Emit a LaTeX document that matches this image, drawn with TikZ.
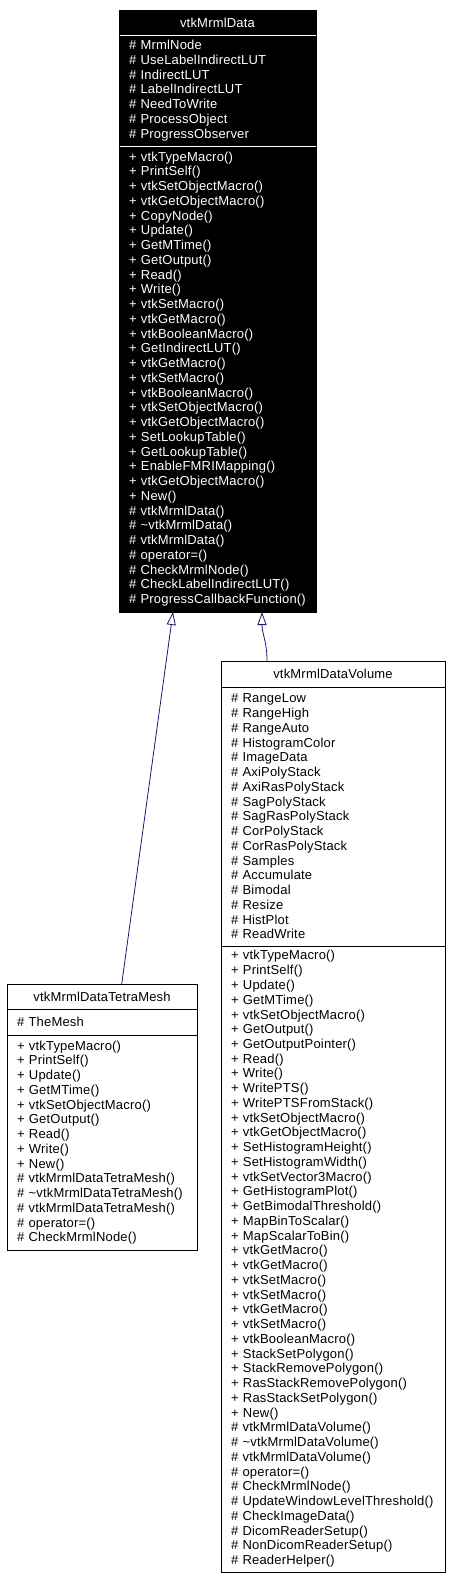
\documentclass[tikz,border=0pt]{standalone}
\usepackage{fontspec}
\setmainfont[LetterSpace=1.5]{Liberation Sans}
\usepackage{xcolor}
\definecolor{ink}{HTML}{000000}
\definecolor{edge}{HTML}{191970}
\usepackage{tikz}
\usetikzlibrary{arrows.meta, positioning, calc}
\tikzset{
  >={Triangle[open, length=13pt, width=9pt]},
  part/.style={draw=ink, line width=0.9pt, anchor=north west, outer sep=0pt, inner xsep=10pt,
    inner ysep=0pt, align=left, font=\fontsize{13}{14.75}\selectfont, text=ink},
  cname/.style={part, align=center},
  dark/.style={fill=ink, draw=ink, text=white},
  rule/.style={draw=white, line width=0.9pt},
  inherit/.style={->, line width=0.8pt, color=edge},
}

\begin{document}
\begin{tikzpicture}[x=1pt, y=1pt]
  \useasboundingbox (0,0) rectangle (452,-1580);

  % The base class, black with white text.
  \node[cname, dark, minimum width=197pt, minimum height=25pt] (dataName) at (119,-10) {vtkMrmlData};
  \node[part, dark, text width=177pt, minimum height=111pt] (dataAttr) at (dataName.south west)
    {\# MrmlNode\\\# UseLabelIndirectLUT\\\# IndirectLUT\\\# LabelIndirectLUT\\\# NeedToWrite\\
     \# ProcessObject\\\# ProgressObserver};
  \node[part, dark, text width=177pt, minimum height=466pt] (dataOps) at (dataAttr.south west)
    {+ vtkTypeMacro()\\+ PrintSelf()\\+ vtkSetObjectMacro()\\+ vtkGetObjectMacro()\\+ CopyNode()\\
     + Update()\\+ GetMTime()\\+ GetOutput()\\+ Read()\\+ Write()\\+ vtkSetMacro()\\+ vtkGetMacro()\\
     + vtkBooleanMacro()\\+ GetIndirectLUT()\\+ vtkGetMacro()\\+ vtkSetMacro()\\+ vtkBooleanMacro()\\
     + vtkSetObjectMacro()\\+ vtkGetObjectMacro()\\+ SetLookupTable()\\+ GetLookupTable()\\
     + EnableFMRIMapping()\\+ vtkGetObjectMacro()\\+ New()\\\# vtkMrmlData()\\
     \# \textasciitilde vtkMrmlData()\\\# vtkMrmlData()\\\# operator=()\\\# CheckMrmlNode()\\
     \# CheckLabelIndirectLUT()\\\# ProgressCallbackFunction()};
  \draw[rule] ($(dataAttr.north west)+(0.5,0)$) -- ($(dataAttr.north east)+(-0.5,0)$);
  \draw[rule] ($(dataOps.north west)+(0.5,0)$) -- ($(dataOps.north east)+(-0.5,0)$);

  % vtkMrmlDataVolume, on the right.
  \node[cname, minimum width=224pt, minimum height=26pt] (volName) at (221,-661) {vtkMrmlDataVolume};
  \node[part, text width=204pt, minimum height=259pt] (volAttr) at (volName.south west)
    {\# RangeLow\\\# RangeHigh\\\# RangeAuto\\\# HistogramColor\\\# ImageData\\\# AxiPolyStack\\
     \# AxiRasPolyStack\\\# SagPolyStack\\\# SagRasPolyStack\\\# CorPolyStack\\\# CorRasPolyStack\\
     \# Samples\\\# Accumulate\\\# Bimodal\\\# Resize\\\# HistPlot\\\# ReadWrite};
  \node[part, text width=204pt, minimum height=626pt] (volOps) at (volAttr.south west)
    {+ vtkTypeMacro()\\+ PrintSelf()\\+ Update()\\+ GetMTime()\\+ vtkSetObjectMacro()\\+ GetOutput()\\
     + GetOutputPointer()\\+ Read()\\+ Write()\\+ WritePTS()\\+ WritePTSFromStack()\\
     + vtkSetObjectMacro()\\+ vtkGetObjectMacro()\\+ SetHistogramHeight()\\+ SetHistogramWidth()\\
     + vtkSetVector3Macro()\\+ GetHistogramPlot()\\+ GetBimodalThreshold()\\+ MapBinToScalar()\\
     + MapScalarToBin()\\+ vtkGetMacro()\\+ vtkGetMacro()\\+ vtkSetMacro()\\+ vtkSetMacro()\\
     + vtkGetMacro()\\+ vtkSetMacro()\\+ vtkBooleanMacro()\\+ StackSetPolygon()\\
     + StackRemovePolygon()\\+ RasStackRemovePolygon()\\+ RasStackSetPolygon()\\+ New()\\
     \# vtkMrmlDataVolume()\\\# \textasciitilde vtkMrmlDataVolume()\\\# vtkMrmlDataVolume()\\
     \# operator=()\\\# CheckMrmlNode()\\\# UpdateWindowLevelThreshold()\\\# CheckImageData()\\
     \# DicomReaderSetup()\\\# NonDicomReaderSetup()\\\# ReaderHelper()};

  % vtkMrmlDataTetraMesh, on the left.
  \node[cname, minimum width=190pt, minimum height=25pt] (tetraName) at (7,-984) {vtkMrmlDataTetraMesh};
  \node[part, text width=170pt, minimum height=26pt] (tetraAttr) at (tetraName.south west)
    {\# TheMesh};
  \node[part, text width=170pt, minimum height=215pt] (tetraOps) at (tetraAttr.south west)
    {+ vtkTypeMacro()\\+ PrintSelf()\\+ Update()\\+ GetMTime()\\+ vtkSetObjectMacro()\\+ GetOutput()\\
     + Read()\\+ Write()\\+ New()\\\# vtkMrmlDataTetraMesh()\\\# \textasciitilde vtkMrmlDataTetraMesh()\\
     \# vtkMrmlDataTetraMesh()\\\# operator=()\\\# CheckMrmlNode()};

  % Both derived classes point up to the base class.
  \draw[inherit] ($(tetraName.north west)+(114.7,0)$) -- ($(dataOps.south west)+(54,0)$);
  \draw[inherit] ($(volName.north west)+(46,0)$) .. controls +(0,20) and +(0,-22) ..
    ($(dataOps.south west)+(143,0)$);
\end{tikzpicture}
\end{document}
